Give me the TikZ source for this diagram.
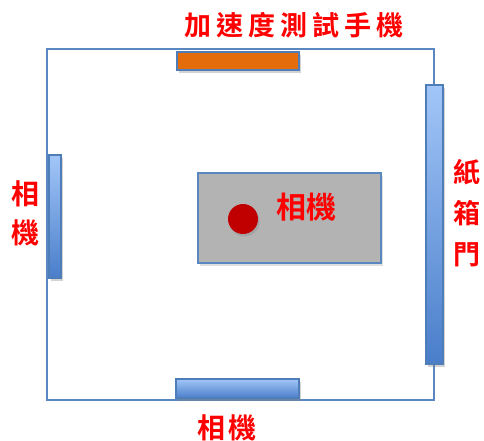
\documentclass[tikz,border=0pt]{standalone}
\usepackage{fontspec}
\newfontfamily\cjk{Noto Sans CJK TC}[BoldFont={* Bold}]
\usetikzlibrary{shadows}
\definecolor{frameblue}{HTML}{5B87C0}
\definecolor{barborder}{HTML}{4F7DB8}
\definecolor{barlight}{HTML}{A2C6F8}
\definecolor{bardark}{HTML}{4A7ECA}
\definecolor{orangebar}{HTML}{E46C0A}
\definecolor{boxgray}{HTML}{B3B3B3}
\definecolor{dotred}{HTML}{C00000}
\definecolor{labelred}{HTML}{FF0000}
\tikzset{
  bar/.style={draw=barborder, line width=1.2pt, top color=barlight, bottom color=bardark,
    drop shadow={shadow xshift=2pt, shadow yshift=-3pt, opacity=0.35}},
  lbl/.style={text=labelred, inner sep=0pt},
}
\begin{document}
\begin{tikzpicture}[x=1pt,y=-1pt]
\useasboundingbox (0,0) rectangle (484,441);
% outer frame
\draw[frameblue, line width=1.5pt] (47,49) rectangle (434,400);
% bars
\path[draw=barborder, line width=1.2pt, fill=orangebar,
  drop shadow={shadow xshift=2pt, shadow yshift=-3pt, opacity=0.35}]
  (177,52) rectangle (299,70);
\path[bar] (426,85) rectangle (443,364);
\path[bar] (49,155) rectangle (61,278);
\path[bar] (176,379) rectangle (299,398);
% center box
\path[draw=frameblue, line width=1.2pt, fill=boxgray,
  drop shadow={shadow xshift=2pt, shadow yshift=-3pt, opacity=0.25}]
  (198,173) rectangle (381,263);
\path[fill=dotred, drop shadow={shadow xshift=1.5pt, shadow yshift=-2.5pt, opacity=0.3}]
  (243,219) circle (15);
% labels
\node[lbl, font=\cjk\bfseries\fontsize{27}{30}\selectfont] (top) at (294,25)
  {加\kern5pt 速\kern5pt 度\kern5pt 測\kern5pt 試\kern5pt 手\kern5pt 機};
\node[lbl, align=center, font=\cjk\bfseries\fontsize{27}{41}\selectfont] (right) at (467,213)
  {紙\\箱\\門};
\node[lbl, align=center, font=\cjk\bfseries\fontsize{28}{39}\selectfont] (left) at (26,213)
  {相\\機};
\node[lbl, font=\cjk\bfseries\fontsize{30}{32}\selectfont] (center) at (306,207) {相機};
\node[lbl, font=\cjk\bfseries\fontsize{28}{30}\selectfont] (bottom) at (227,428) {相\kern3pt 機};
\end{tikzpicture}
\end{document}
